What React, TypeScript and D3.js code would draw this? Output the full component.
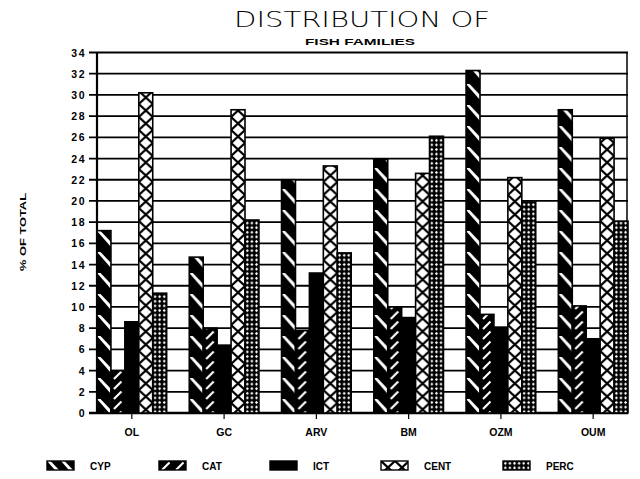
import React from "react";
import * as d3 from "d3";

const sites = ["OL", "GC", "ARV", "BM", "OZM", "OUM"];
const families = ["CYP", "CAT", "ICT", "CENT", "PERC"];

const cyp = [17.2, 14.7, 22.0, 23.9, 32.3, 28.6];
const cat = [4.0, 8.0, 7.8, 10.0, 9.3, 10.1];
const ict = [8.6, 6.4, 13.2, 9.0, 8.1, 7.0];
const cent = [30.2, 28.6, 23.3, 22.6, 22.2, 25.9];
const perc = [11.3, 18.2, 15.1, 26.1, 19.9, 18.1];

const yTicks = d3.range(0, 36, 2);

const W = 640;
const H = 479;
const left = 97;
const right = 628;
const top = 52.5;
const bottom = 413;

const font = "'Liberation Sans', Arial, sans-serif";

const App: React.FC = () => {
  const series = [cyp, cat, ict, cent, perc];

  const x0 = d3.scaleBand<string>().domain(sites).range([left, right]).paddingInner(0.245).paddingOuter(0);
  const x1 = d3.scaleBand<string>().domain(families).range([0, x0.bandwidth()]).padding(0);
  const y = d3.scaleLinear().domain([0, 34]).range([bottom, top]);

  const fills = ["url(#p-cyp)", "url(#p-cat)", "#000", "url(#p-cent)", "url(#p-perc)"];

  const legendX = [47, 159, 270, 381, 503];

  return (
    <svg width={W} height={H} style={{ position: "absolute", left: 0, top: 0, background: "#fff" }}>
      <defs>
        <pattern id="p-cyp" patternUnits="userSpaceOnUse" width={14} height={21}>
          <rect width={14} height={21} fill="#000" />
          <polygon points="0,0 3.5,0 14,11 14,16" fill="#fff" />
        </pattern>
        <pattern id="p-cat" patternUnits="userSpaceOnUse" width={14} height={10}>
          <rect width={14} height={10} fill="#000" />
          <line x1={3} y1={9} x2={10.5} y2={1.5} stroke="#fff" strokeWidth={2.2} />
        </pattern>
        <pattern id="p-cent" patternUnits="userSpaceOnUse" width={14} height={13}>
          <rect width={14} height={13} fill="#fff" />
          <line x1={0} y1={0} x2={14} y2={13} stroke="#000" strokeWidth={2.2} />
          <line x1={14} y1={0} x2={0} y2={13} stroke="#000" strokeWidth={2.2} />
        </pattern>
        <pattern id="p-perc" patternUnits="userSpaceOnUse" width={4.6} height={4.6}>
          <rect width={4.6} height={4.6} fill="#000" />
          <polygon points="2.3,0.8 3.8,2.3 2.3,3.8 0.8,2.3" fill="#fff" />
        </pattern>
      </defs>

      <text x={362} y={27} textAnchor="middle" fontFamily="'DejaVu Sans', sans-serif" fontWeight={200}
        fontSize={21} textLength={256} lengthAdjust="spacingAndGlyphs">DISTRIBUTION OF</text>
      <text x={360} y={45} textAnchor="middle" fontFamily={font} fontWeight="bold" fontSize={9.5}
        textLength={110} lengthAdjust="spacingAndGlyphs">FISH FAMILIES</text>

      {/* grid */}
      {yTicks.map((t) => (
        <g key={t}>
          <line x1={left - 8} x2={right} y1={y(t)} y2={y(t)} stroke="#000" strokeWidth={t === 0 ? 2.4 : 1.8} />
          <text x={86} y={y(t) + 4} textAnchor="end" fontFamily={font} fontWeight="bold" fontSize={10.5}
            letterSpacing={1.5}>{t}</text>
        </g>
      ))}
      <line x1={left} x2={left} y1={top} y2={bottom} stroke="#000" strokeWidth={2.2} />
      <line x1={right - 1} x2={right - 1} y1={top} y2={bottom} stroke="#000" strokeWidth={1.5} />

      <text transform={`translate(26,232) rotate(-90)`} textAnchor="middle" fontFamily={font} fontWeight="bold"
        fontSize={9} textLength={78} lengthAdjust="spacingAndGlyphs">% OF TOTAL</text>

      {/* bars */}
      {sites.map((s, i) => (
        <g key={s}>
          {families.map((f, j) => {
            const v = series[j][i];
            const bx = (x0(s) ?? 0) + (x1(f) ?? 0);
            return (
              <g key={f} transform={`translate(${bx},0)`}>
                <rect x={0} y={y(v)} width={x1.bandwidth()} height={bottom - y(v)} fill={fills[j]}
                  stroke="#000" strokeWidth={1.6} />
              </g>
            );
          })}
          <line x1={(x0(s) ?? 0) + x0.bandwidth() / 2} x2={(x0(s) ?? 0) + x0.bandwidth() / 2}
            y1={bottom} y2={bottom + 6} stroke="#000" strokeWidth={1.2} />
          <text x={(x0(s) ?? 0) + x0.bandwidth() / 2} y={436} textAnchor="middle" fontFamily={font}
            fontWeight="bold" fontSize={10.5}>{s}</text>
        </g>
      ))}

      {/* legend */}
      {families.map((f, j) => (
        <g key={f}>
          <g transform={`translate(${legendX[j]},461)`}>
            <rect x={0} y={0} width={27} height={9} fill={fills[j]} stroke="#000" strokeWidth={1.4} />
          </g>
          <text x={legendX[j] + 43} y={470} fontFamily={font} fontWeight="bold" fontSize={10}>{f}</text>
        </g>
      ))}
    </svg>
  );
};

export default App;
